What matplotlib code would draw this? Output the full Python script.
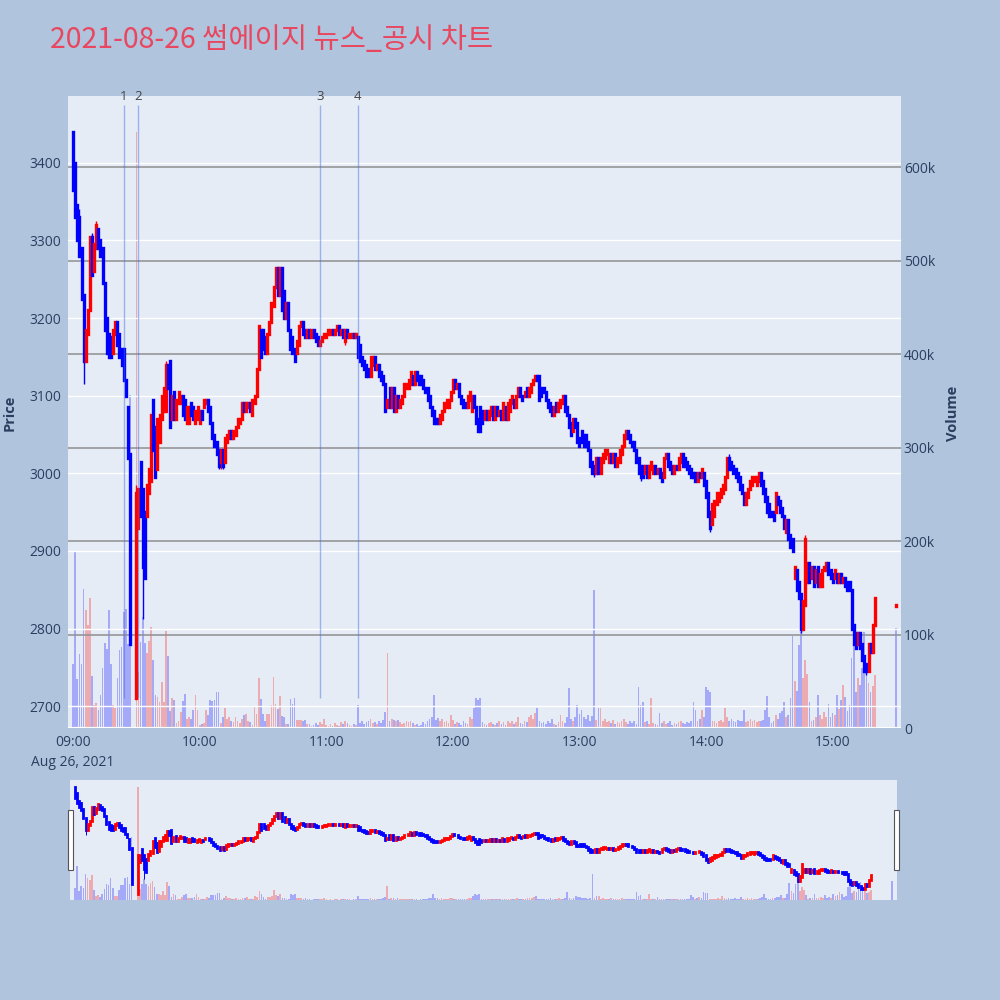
import numpy as np
import pandas as pd
import matplotlib
matplotlib.use('Agg')
import matplotlib.pyplot as plt
from matplotlib.patches import Rectangle
from matplotlib.colors import to_rgba

plt.rcParams['font.family'] = ['Open Sans', 'Noto Sans CJK KR', 'DejaVu Sans']

title = '2021-08-26 썸에이지 뉴스_공시 차트'
day = '2021-08-26'
first_time = '09:00'

# 1-minute candles from 09:00 (None = no trade, VI halt)
opens = [
    3440, 3400, 3345, 3330, 3290, 3230, 3145, 3180, 3210, 3305,
    3260, 3290, 3315, 3300, 3290, 3245, 3200, 3180, 3175, 3155,
    3180, 3195, 3180, 3160, 3160, 3120, 3085, 3025, None, None,
    2710, 2930, 3015, 2980, 2950, 2945, 2975, 2990, 3095, 3060,
    3005, 3040, 3070, 3080, 3080, 3140, 3145, 3070, 3105, 3070,
    3090, 3090, 3100, 3095, 3065, 3065, 3090, 3085, 3065, 3070,
    3065, 3080, 3085, 3090, 3095, 3085, 3065, 3050, 3040, 3030,
    3015, 3030, 3015, 3040, 3045, 3055, 3045, 3050, 3060, 3065,
    3070, 3090, 3080, 3085, 3090, 3075, 3090, 3100, 3135, 3185,
    3185, 3175, 3155, 3180, 3195, 3215, 3240, 3265, 3230, 3265,
    3235, 3200, 3220, 3185, 3175, 3160, 3155, 3165, 3190, 3195,
    3185, 3175, 3185, 3175, 3185, 3180, 3175, 3165, 3170, 3175,
    3175, 3180, 3180, 3185, 3180, 3185, 3190, 3180, 3185, 3170,
    3185, 3175, 3175, 3180, 3175, 3175, 3165, 3150, 3145, 3140,
    3135, 3125, 3140, 3150, 3135, 3140, 3130, 3125, 3115, 3085,
    3110, 3085, 3110, 3080, 3100, 3085, 3090, 3100, 3110, 3110,
    3115, 3125, 3115, 3130, 3125, 3125, 3120, 3110, 3110, 3100,
    3085, 3080, 3070, 3070, 3065, 3070, 3080, 3085, 3085, 3095,
    3105, 3120, 3110, 3115, 3100, 3095, 3090, 3085, 3095, 3080,
    3100, 3085, 3070, 3085, 3080, 3070, 3080, 3070, 3075, 3085,
    3070, 3085, 3075, 3080, 3070, 3085, 3070, 3080, 3090, 3095,
    3085, 3100, 3110, 3100, 3100, 3110, 3100, 3105, 3115, 3120,
    3125, 3125, 3110, 3110, 3105, 3095, 3090, 3085, 3075, 3090,
    3080, 3085, 3090, 3100, 3085, 3075, 3065, 3055, 3070, 3065,
    3045, 3055, 3050, 3050, 3040, 3030, 3015, 3010, 3000, 3020,
    3000, 3015, 3020, 3025, 3015, 3025, 3015, 3025, 3010, 3015,
    3025, 3035, 3045, 3055, 3050, 3040, 3040, 3030, 3020, 3010,
    3010, 3000, 3010, 2995, 3005, 3000, 3010, 3000, 3005, 3000,
    2995, 3020, 3025, 3015, 3010, 3000, 3010, 3005, 3015, 3025,
    3020, 3015, 3010, 3005, 3000, 3000, 2990, 3000, 2995, 3000,
    2990, 2975, 2950, 2935, 2945, 2960, 2965, 2970, 2975, 2980,
    2995, 3020, 3015, 3010, 3005, 3000, 2995, 2985, 2975, 2960,
    2970, 2980, 2985, 2990, 2985, 2990, 3000, 2990, 2980, 2970,
    2960, 2950, 2950, 2950, 2970, 2965, 2955, 2945, 2925, 2940,
    2920, 2915, 2865, 2875, 2860, 2845, 2800, 2830, 2860, 2885,
    2865, 2880, 2860, 2880, 2855, 2855, 2875, 2875, 2885, 2875,
    2870, 2865, 2870, 2860, 2870, 2860, 2865, 2860, 2860, 2850,
    2805, 2795, 2780, 2795, 2780, 2765, 2755, 2745, 2780, 2770,
    2805,
]
closes = [
    3365, 3330, 3300, 3280, 3225, 3145, 3185, 3210, 3305, 3255,
    3295, 3320, 3290, 3280, 3245, 3185, 3155, 3150, 3150, 3185,
    3195, 3165, 3150, 3140, 3120, 3100, 3020, 2780, None, None,
    2975, 2980, 2945, 2880, 2865, 2985, 3005, 3075, 3030, 2995,
    3070, 3075, 3100, 3110, 3140, 3110, 3060, 3100, 3070, 3095,
    3105, 3100, 3075, 3070, 3085, 3085, 3075, 3070, 3080, 3085,
    3080, 3070, 3095, 3095, 3080, 3065, 3045, 3035, 3025, 3010,
    3030, 3010, 3045, 3050, 3055, 3045, 3055, 3060, 3070, 3070,
    3090, 3080, 3090, 3090, 3080, 3095, 3100, 3135, 3190, 3150,
    3160, 3155, 3180, 3195, 3220, 3240, 3265, 3230, 3265, 3210,
    3200, 3220, 3185, 3160, 3155, 3145, 3170, 3190, 3195, 3180,
    3175, 3185, 3175, 3185, 3175, 3170, 3165, 3170, 3175, 3180,
    3180, 3185, 3185, 3180, 3185, 3190, 3180, 3185, 3175, 3185,
    3175, 3180, 3180, 3175, 3180, 3150, 3145, 3140, 3135, 3125,
    3125, 3150, 3150, 3135, 3140, 3125, 3120, 3115, 3080, 3095,
    3085, 3110, 3080, 3100, 3085, 3095, 3100, 3115, 3115, 3120,
    3130, 3115, 3130, 3120, 3115, 3115, 3110, 3105, 3095, 3085,
    3075, 3065, 3065, 3065, 3075, 3080, 3090, 3095, 3095, 3105,
    3120, 3110, 3115, 3100, 3090, 3085, 3085, 3100, 3105, 3100,
    3085, 3065, 3055, 3055, 3065, 3080, 3070, 3080, 3085, 3070,
    3085, 3075, 3080, 3070, 3090, 3070, 3090, 3095, 3100, 3085,
    3100, 3110, 3100, 3095, 3105, 3100, 3110, 3115, 3120, 3125,
    3120, 3095, 3100, 3105, 3095, 3085, 3080, 3075, 3085, 3080,
    3090, 3095, 3100, 3080, 3075, 3060, 3050, 3070, 3060, 3040,
    3035, 3040, 3035, 3035, 3030, 3010, 3000, 3000, 3020, 3000,
    3020, 3025, 3030, 3030, 3025, 3015, 3025, 3010, 3020, 3030,
    3035, 3050, 3055, 3045, 3040, 3035, 3030, 3015, 3000, 2995,
    2995, 3010, 2995, 3010, 3015, 3010, 3000, 3005, 2995, 2990,
    3020, 3025, 3010, 3005, 3000, 3010, 3005, 3020, 3025, 3010,
    3010, 3005, 3000, 2995, 2995, 2990, 3000, 2995, 3005, 2985,
    2970, 2945, 2930, 2960, 2965, 2975, 2975, 2980, 2985, 2995,
    3020, 3005, 3005, 3000, 2995, 2990, 2980, 2975, 2960, 2975,
    2980, 2990, 2995, 2995, 2995, 3000, 2985, 2975, 2965, 2950,
    2945, 2945, 2940, 2975, 2960, 2950, 2945, 2930, 2940, 2915,
    2905, 2900, 2880, 2850, 2840, 2800, 2835, 2915, 2885, 2860,
    2880, 2855, 2875, 2855, 2870, 2875, 2880, 2885, 2870, 2865,
    2860, 2875, 2860, 2870, 2860, 2865, 2855, 2850, 2850, 2800,
    2780, 2775, 2795, 2775, 2760, 2745, 2745, 2780, 2770, 2805,
    2840,
]
# wicks that reach past the body (minute index -> price)
wick_high = {1: 3400, 3: 3340, 9: 3310, 11: 3325, 30: 2985, 44: 3145, 311: 3025, 347: 2920}
wick_low = {5: 3115, 33: 2812, 69: 3005, 70: 3005, 71: 3005, 129: 3165, 247: 2995,
            269: 2990, 302: 2925, 345: 2795, 376: 2740}

# volume, thousands of shares
volumes = [
    68, 189, 52, 79, 68, 149, 126, 110, 139, 56,
    25, 27, 19, 35, 64, 91, 85, 126, 68, 25,
    21, 54, 83, 87, 124, 127, 90, 356, 0, 0,
    637, 60, 92, 119, 91, 80, 93, 108, 73, 35,
    33, 28, 49, 28, 104, 77, 18, 32, 30, 5,
    7, 17, 29, 36, 10, 12, 10, 19, 35, 19,
    3, 4, 5, 19, 14, 30, 29, 30, 38, 39,
    5, 12, 21, 10, 12, 7, 6, 12, 7, 5,
    10, 14, 15, 7, 6, 3, 24, 15, 53, 31,
    15, 7, 15, 15, 25, 55, 26, 20, 34, 13,
    12, 4, 4, 31, 26, 32, 9, 9, 9, 7,
    9, 4, 4, 2, 3, 5, 3, 6, 4, 10,
    3, 2, 4, 2, 5, 3, 2, 6, 4, 8,
    5, 3, 2, 4, 3, 25, 5, 8, 4, 6,
    7, 10, 5, 6, 4, 8, 5, 9, 17, 80,
    8, 10, 9, 8, 9, 6, 4, 5, 8, 6,
    7, 5, 3, 4, 2, 3, 6, 4, 8, 10,
    12, 35, 9, 11, 7, 10, 6, 8, 5, 14,
    9, 4, 6, 5, 3, 8, 5, 4, 12, 10,
    21, 32, 30, 32, 6, 4, 3, 5, 6, 4,
    3, 5, 7, 4, 6, 3, 8, 5, 7, 4,
    6, 12, 5, 4, 7, 6, 12, 14, 10, 16,
    21, 8, 5, 6, 4, 7, 5, 10, 4, 3,
    6, 14, 8, 5, 12, 43, 10, 8, 12, 25,
    15, 19, 12, 10, 14, 8, 13, 148, 9, 21,
    21, 8, 10, 6, 7, 5, 9, 4, 6, 5,
    8, 10, 6, 4, 7, 5, 8, 4, 44, 25,
    28, 6, 8, 4, 32, 5, 4, 3, 16, 5,
    8, 4, 5, 7, 3, 5, 4, 6, 8, 5,
    4, 6, 5, 7, 28, 19, 8, 10, 19, 12,
    44, 41, 38, 7, 8, 5, 7, 9, 6, 21,
    12, 8, 10, 8, 6, 9, 8, 7, 19, 6,
    8, 10, 7, 9, 6, 8, 7, 9, 19, 34,
    12, 5, 8, 14, 10, 16, 18, 28, 12, 14,
    32, 98, 50, 40, 89, 103, 53, 73, 58, 28,
    7, 9, 12, 35, 14, 10, 17, 12, 26, 12,
    16, 14, 35, 20, 30, 46, 33, 18, 25, 75,
    98, 39, 53, 46, 64, 103, 57, 48, 38, 45,
    57,
]

# closing auction
auction_time = '15:30'
auction_price = 2830
auction_volume = 107

news_times = ['09:24', '09:31', '10:57', '11:15']
news_labels = ['1', '2', '3', '4']

time_ticks = ['09:00', '10:00', '11:00', '12:00', '13:00', '14:00', '15:00']
date_label = 'Aug 26, 2021'
price_ticks = [2700, 2800, 2900, 3000, 3100, 3200, 3300, 3400]
volume_ticks = [0, 100, 200, 300, 400, 500, 600]
volume_tick_labels = ['0', '100k', '200k', '300k', '400k', '500k', '600k']

UP = '#FF0000'
DOWN = '#0000FF'
BG = '#B0C4DE'
PLOT_BG = '#E5ECF6'
FONT = '#2a3f5f'


def minute_of(hhmm):
    t = pd.Timestamp(day + ' ' + hhmm)
    return (t - pd.Timestamp(day + ' ' + first_time)).total_seconds() / 60


idx = [i for i in range(len(opens)) if opens[i] is not None]
xs = np.array(idx, dtype=float)
o = np.array([opens[i] for i in idx], dtype=float)
c = np.array([closes[i] for i in idx], dtype=float)
hi = np.array([max(opens[i], closes[i], wick_high.get(i, 0)) for i in idx], dtype=float)
lo = np.array([min(opens[i], closes[i], wick_low.get(i, 99999)) for i in idx], dtype=float)
up = c >= o
ccol = [UP if u else DOWN for u in up]
vx = np.array(idx + [minute_of(auction_time)], dtype=float)
vv = np.array([volumes[i] for i in idx] + [auction_volume], dtype=float) * 1000
vcol = [to_rgba(UP if u else DOWN, 0.28) for u in up] + [to_rgba(DOWN, 0.28)]
ax_x = minute_of(auction_time)

xlim = (-2.4, 392.4)
plim = (2672, 3486)
vlim = (0, 676000)


def draw(ax_v, ax_p, body_lw, wick_lw):
    ax_v.bar(vx, vv, width=0.8, color=vcol, linewidth=0)
    ax_p.vlines(xs, lo, hi, colors=ccol, linewidth=wick_lw)
    bodies = ax_p.vlines(xs, o, c, colors=ccol, linewidth=body_lw)
    bodies.set_capstyle('projecting')
    a = ax_p.vlines([ax_x], [auction_price - 1], [auction_price + 1], colors=UP, linewidth=body_lw)
    a.set_capstyle('projecting')
    ax_v.set_xlim(*xlim)
    ax_v.set_ylim(*vlim)
    ax_p.set_ylim(*plim)


fig = plt.figure(figsize=(10, 10), dpi=100, facecolor=BG)

ax_v = fig.add_axes([0.068, 0.272, 0.833, 0.632])
ax_v.set_facecolor(PLOT_BG)
ax_p = ax_v.twinx()
ax_v.yaxis.tick_right()
ax_p.yaxis.tick_left()

ax_v.set_yticks([v * 1000 for v in volume_ticks])
ax_v.set_yticklabels(volume_tick_labels)
ax_v.grid(axis='y', color='#8f8f8f', linewidth=1.1)
ax_v.axhline(0, color='white', linewidth=1.6)
ax_p.set_yticks(price_ticks)
ax_p.grid(axis='y', color='white', linewidth=1.0)

draw(ax_v, ax_p, 2.4, 1.0)

news_x = [minute_of(t) for t in news_times]
ax_p.vlines(news_x, lo.min(), hi.max() * 1.01, colors='royalblue', alpha=0.45, linewidth=1.0)
for nx, lab in zip(news_x, news_labels):
    ax_p.text(nx, 1.0, lab, transform=ax_p.get_xaxis_transform(), ha='center', va='center',
              fontsize=9.5, color='#444444', clip_on=False)

ax_v.set_xticks([minute_of(t) for t in time_ticks])
ax_v.set_xticklabels([time_ticks[0] + '\n' + date_label] + time_ticks[1:], linespacing=1.45)
for ax in (ax_v, ax_p):
    for s in ax.spines.values():
        s.set_visible(False)
    ax.tick_params(length=0, labelsize=10, colors=FONT)
ax_v.tick_params(axis='x', pad=5)
ax_v.tick_params(axis='y', pad=2)
ax_p.tick_params(axis='y', pad=5)
for lab in ax_v.get_xticklabels():
    lab.set_verticalalignment('top')

fig.text(0.010, 0.587, 'Price', rotation=90, ha='center', va='center',
         fontsize=10.5, fontweight='bold', color=FONT)
fig.text(0.953, 0.587, 'Volume', rotation=90, ha='center', va='center',
         fontsize=10.5, fontweight='bold', color=FONT)
fig.text(0.050, 0.960, title, ha='left', va='center', fontsize=20.5,
         color='#E8475F', family=['Noto Sans CJK KR', 'DejaVu Sans'])

# range slider
sv = fig.add_axes([0.070, 0.100, 0.827, 0.120])
sv.set_facecolor(PLOT_BG)
sp = sv.twinx()
draw(sv, sp, 2.0, 0.7)
for ax in (sv, sp):
    ax.set_xticks([])
    ax.set_yticks([])
    for s in ax.spines.values():
        s.set_visible(False)

for hx in (0.068, 0.894):
    fig.patches.append(Rectangle((hx, 0.130), 0.005, 0.060, transform=fig.transFigure,
                                 facecolor='white', edgecolor='#555555', linewidth=0.8))

fig.savefig('out.png', dpi=100, facecolor=BG)
